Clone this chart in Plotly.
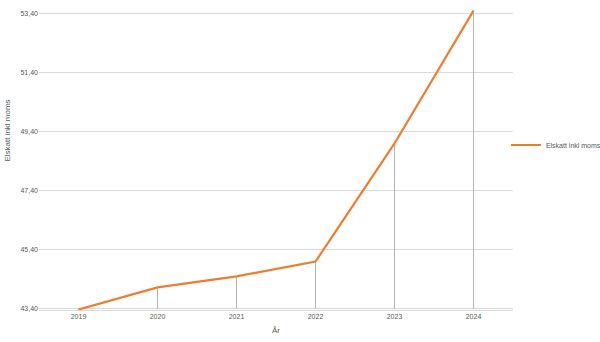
import plotly.graph_objects as go

years = ["2019", "2020", "2021", "2022", "2023", "2024"]
values = [43.375, 44.125, 44.5, 45.0, 49.0, 53.5]
series_name = "Elskatt inkl moms"
y_title = "Elskatt inkl moms"
x_title = "År"
axis_base = 43.4

# drop lines from each point to the axis base
drop_x, drop_y = [], []
for yr, v in zip(years, values):
    drop_x += [yr, yr, None]
    drop_y += [v, axis_base, None]

fig = go.Figure()
fig.add_trace(go.Scatter(
    x=drop_x, y=drop_y, mode="lines",
    line=dict(color="#b4b4b4", width=1),
    showlegend=False, hoverinfo="skip",
))
fig.add_trace(go.Scatter(
    x=years, y=values, mode="lines", name=series_name,
    line=dict(color="#ed7d31", width=2.2),
))

font_family = "Liberation Sans, Arial, sans-serif"
fig.update_layout(
    width=600, height=342,
    margin=dict(l=39, r=87, t=10, b=32, autoexpand=False),
    paper_bgcolor="white", plot_bgcolor="white",
    separators=", ",
    font=dict(family=font_family, size=7, color="#595959"),
    showlegend=True,
    legend=dict(x=0.985, xanchor="left", y=0.55, yanchor="middle",
                font=dict(size=7, color="#595959"),
                bgcolor="rgba(0,0,0,0)", itemwidth=30),
    annotations=[dict(
        text=y_title, textangle=-90, xref="paper", yref="paper",
        x=-0.066, y=0.597, xanchor="center", yanchor="middle",
        showarrow=False, font=dict(size=8, color="#595959"),
    )],
)
fig.update_xaxes(
    type="category", range=[-0.5, 5.5],
    showgrid=False, showline=True, linecolor="#d9d9d9", linewidth=1,
    ticks="", tickfont=dict(size=7, color="#595959"),
    title=dict(text=x_title, font=dict(size=8, color="#595959"), standoff=7),
)
fig.update_yaxes(
    range=[43.36, 53.52], tick0=43.4, dtick=2, tickformat=".2f",
    showgrid=True, gridcolor="#d9d9d9", gridwidth=1,
    zeroline=False, showline=False, ticks="",
    tickfont=dict(size=7, color="#595959"),
)
fig.write_html("out.html")
